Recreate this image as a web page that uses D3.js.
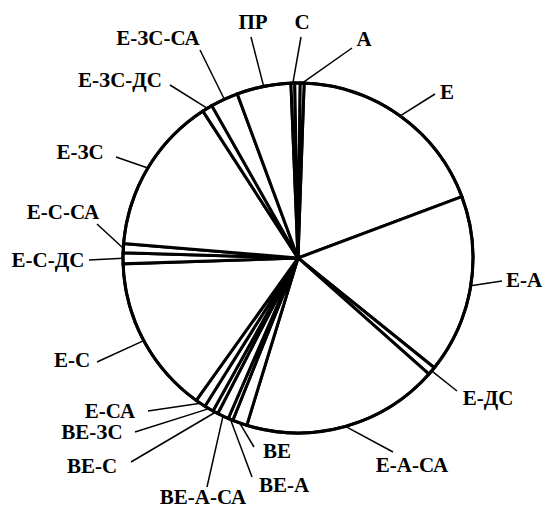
<!DOCTYPE html>
<html><head><meta charset="utf-8">
<script src="https://cdn.jsdelivr.net/npm/d3@7"></script>
<style>html,body{margin:0;padding:0;background:#fff;}
text.lbl{font-family:"Liberation Serif","Times New Roman",serif;font-weight:bold;font-size:21px;}</style>
</head><body>
<svg id="chart" width="548" height="509"></svg>
<script>
// Data (share of total, %), clockwise from "Е"
const categories = ["Е","Е-А","Е-ДС","Е-А-СА","ВЕ","ВЕ-А","ВЕ-А-СА","ВЕ-С","ВЕ-ЗС","Е-СА","Е-С","Е-С-ДС","Е-С-СА","Е-ЗС","Е-ЗС-ДС","Е-ЗС-СА","ПР","С","","А"];
const values = [18.75,16.5,0.75,18.2,1.35,0.45,1.05,0.5,0.85,0.95,14.6,1.0,0.85,14.55,0.95,2.55,5.0,0.35,0.5,0.35];

// Layout: label centre (x,y) and outer end of the leader line (px,py)
const labelLayout = {
  "Е":        {x:447, y:92,  px:435, py:94},
  "Е-А":      {x:524, y:280, px:502, py:281},
  "Е-ДС":     {x:488, y:398, px:457, py:391},
  "Е-А-СА":   {x:412, y:465, px:393, py:452},
  "ВЕ":       {x:277, y:451, px:254, py:447},
  "ВЕ-А":     {x:284, y:485, px:252, py:477},
  "ВЕ-А-СА":  {x:203, y:497, px:207, py:487},
  "ВЕ-С":     {x:92,  y:466, px:131, py:462},
  "ВЕ-ЗС":    {x:92,  y:432, px:135, py:432},
  "Е-СА":     {x:110, y:411, px:148, py:411},
  "Е-С":      {x:72,  y:360, px:97,  py:362},
  "Е-С-ДС":   {x:48,  y:260, px:89,  py:260},
  "Е-С-СА":   {x:63,  y:212, px:97,  py:224},
  "Е-ЗС":     {x:80,  y:152, px:116, py:157},
  "Е-ЗС-ДС":  {x:120, y:80,  px:170, py:85},
  "Е-ЗС-СА":  {x:158, y:38,  px:200, py:50},
  "ПР":       {x:253, y:22,  px:251, py:37},
  "С":        {x:302, y:22,  px:301, py:37},
  "А":        {x:364, y:39,  px:352, py:48}
};

const cx = 298, cy = 258, r = 175;
const svg = d3.select("#chart");
const g = svg.append("g").attr("transform", `translate(${cx},${cy})`);

const deg = Math.PI / 180;
const pie = d3.pie().sort(null).value(d => d.v)
  .startAngle(2 * deg).endAngle(362 * deg);
const data = categories.map((c, i) => ({c, v: values[i]}));
const arcs = pie(data);
const arc = d3.arc().innerRadius(0).outerRadius(r);

g.selectAll("path.slice").data(arcs).join("path")
  .attr("class", "slice")
  .attr("d", arc)
  .attr("fill", "#fff")
  .attr("stroke", "#000")
  .attr("stroke-width", 3)
  .attr("stroke-linejoin", "miter");

g.append("circle").attr("r", r).attr("fill", "none")
  .attr("stroke", "#000").attr("stroke-width", 3);

// leader lines
const labelled = arcs.filter(a => a.data.c !== "");
svg.selectAll("line.leader").data(labelled).join("line")
  .attr("class", "leader")
  .attr("x1", a => { const m = (a.startAngle + a.endAngle) / 2; return cx + r * Math.sin(m); })
  .attr("y1", a => { const m = (a.startAngle + a.endAngle) / 2; return cy - r * Math.cos(m); })
  .attr("x2", a => labelLayout[a.data.c].px)
  .attr("y2", a => labelLayout[a.data.c].py)
  .attr("stroke", "#000").attr("stroke-width", 1.5);

svg.selectAll("text.lbl").data(labelled).join("text")
  .attr("class", "lbl")
  .attr("x", a => labelLayout[a.data.c].x)
  .attr("y", a => labelLayout[a.data.c].y)
  .attr("text-anchor", "middle")
  .attr("dominant-baseline", "central")
  .text(a => a.data.c);
</script>
</body></html>
